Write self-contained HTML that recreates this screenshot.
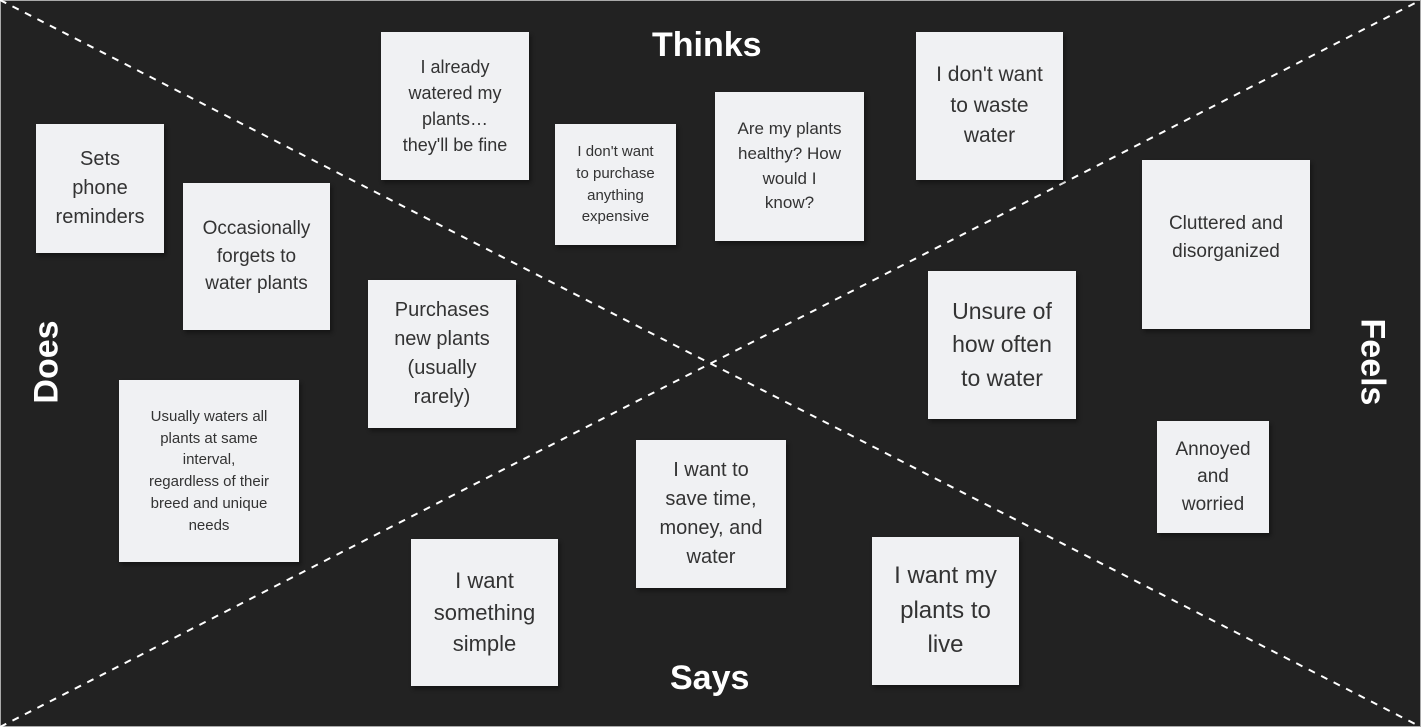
<!DOCTYPE html>
<html><head><style>
html,body{margin:0;padding:0;}
body{width:1421px;height:727px;background:#222;position:relative;overflow:hidden;font-family:"Liberation Sans",sans-serif;}
.frame{position:absolute;left:0;top:0;width:1419px;height:725px;border:1px solid #aaa;}
.s{position:absolute;background:#f0f1f3;color:#333;display:flex;align-items:center;justify-content:center;text-align:center;box-sizing:border-box;padding:6px;line-height:1.45;box-shadow:2px 3px 4px rgba(0,0,0,.4);}
.l{position:absolute;color:#fff;font-weight:bold;font-size:34px;}
</style></head><body>
<div class="frame"></div>
<svg width="1421" height="727" style="position:absolute;left:0;top:0">
<line x1="0" y1="0" x2="1421" y2="727" stroke="#fff" stroke-width="2" stroke-dasharray="7,7"/>
<line x1="0" y1="727" x2="1421" y2="0" stroke="#fff" stroke-width="2" stroke-dasharray="7,7"/>
</svg>
<div class="l" style="left:652px;top:26px">Thinks</div>
<div class="l" style="left:670px;top:659px">Says</div>
<div class="l" style="left:47px;top:362px;transform:translate(-50%,-50%) rotate(-90deg)">Does</div>
<div class="l" style="left:1372px;top:362px;transform:translate(-50%,-50%) rotate(90deg)">Feels</div>

<div class="s" style="left:36px;top:124px;width:128px;height:129px;font-size:20px;padding:8px 24px">Sets phone reminders</div>
<div class="s" style="left:183px;top:183px;width:147px;height:147px;font-size:19px;padding:8px 12px">Occasionally forgets to water plants</div>
<div class="s" style="left:119px;top:380px;width:180px;height:182px;font-size:15px;padding:10px 6px"><span>Usually waters all<br>plants at same<br>interval,<br>regardless of their<br>breed and unique<br>needs</span></div>
<div class="s" style="left:368px;top:280px;width:148px;height:148px;font-size:20px;padding:8px 20px">Purchases new plants (usually rarely)</div>
<div class="s" style="left:381px;top:32px;width:148px;height:148px;font-size:18px;padding:8px 16px">I already watered my plants… they'll be fine</div>
<div class="s" style="left:555px;top:124px;width:121px;height:121px;font-size:15px;padding:6px 4px"><span>I don't want<br>to purchase<br>anything<br>expensive</span></div>
<div class="s" style="left:715px;top:92px;width:149px;height:149px;font-size:17px;padding:8px 22px">Are my plants healthy? How would I know?</div>
<div class="s" style="left:916px;top:32px;width:147px;height:148px;font-size:21px;padding:12px">I don't want to waste water</div>
<div class="s" style="left:1142px;top:160px;width:168px;height:169px;font-size:19px;align-items:flex-start;padding-top:50px">Cluttered and disorganized</div>
<div class="s" style="left:928px;top:271px;width:148px;height:148px;font-size:23px;padding:12px">Unsure of how often to water</div>
<div class="s" style="left:1157px;top:421px;width:112px;height:112px;font-size:19px;padding:6px 20px">Annoyed and worried</div>
<div class="s" style="left:636px;top:440px;width:150px;height:148px;font-size:20px;padding:8px 20px">I want to save time, money, and water</div>
<div class="s" style="left:411px;top:539px;width:147px;height:147px;font-size:22px">I want something simple</div>
<div class="s" style="left:872px;top:537px;width:147px;height:148px;font-size:24px;padding:10px">I want my plants to live</div>
</body></html>
